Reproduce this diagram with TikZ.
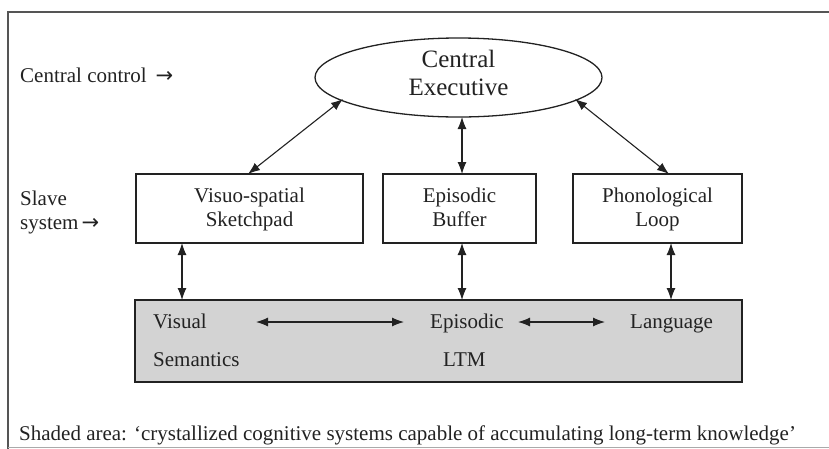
\documentclass[tikz,border=0pt]{standalone}
\usepackage{fontspec}
\setmainfont{Liberation Serif}
\newfontfamily\symfont{DejaVu Sans}
\usetikzlibrary{arrows.meta,shapes.geometric}
\definecolor{shade}{HTML}{D3D3D3}
\definecolor{framegray}{HTML}{555555}
\definecolor{ink}{HTML}{222222}
\tikzset{
  txt/.style={font=\fontsize{21}{24}\selectfont, inner sep=0pt, anchor=base, text=ink},
  ltxt/.style={txt, anchor=base west},
  bigtxt/.style={font=\fontsize{25}{28}\selectfont, inner sep=0pt, anchor=base, text=ink},
  unit/.style={draw=ink, line width=1.6pt, inner sep=0pt},
  link/.style={line width=1.1pt, draw=ink, {Latex[length=12pt,width=9pt]}-{Latex[length=12pt,width=9pt]}},
}
\newcommand{\rarr}{{\symfont\fontsize{21}{21}\selectfont →}}
\begin{document}
\begin{tikzpicture}[x=1pt,y=-1pt]
\useasboundingbox (0,0) rectangle (829,448);
% outer frame
\draw[framegray, line width=1.3pt] (8,449) -- (8,12) -- (830,12);
\draw[framegray!50, line width=0.8pt] (8,447) -- (830,447);

% central executive
\draw[ink, line width=1.3pt] (458.5,77.5) ellipse [x radius=143.5, y radius=39.5];
\coordinate (ce) at (458.5,77.5);
\node[bigtxt] (ce1) at (458.5,67) {Central};
\node[bigtxt] (ce2) at (458.5,95) {Executive};

% slave systems
\draw[unit] (136,174) rectangle (363,243);
\draw[unit] (383,174) rectangle (536,243);
\draw[unit] (573,174) rectangle (742,243);
\node[txt] (vs1) at (249.5,202) {Visuo-spatial};
\node[txt] (vs2) at (249.5,226) {Sketchpad};
\node[txt] (eb1) at (459.5,202) {Episodic};
\node[txt] (eb2) at (459.5,226) {Buffer};
\node[txt] (pl1) at (657.5,202) {Phonological};
\node[txt] (pl2) at (657.5,226) {Loop};

% long-term memory (shaded)
\draw[unit, fill=shade] (135,300) rectangle (742,382);
\node[ltxt] (vis) at (153,328) {Visual};
\node[ltxt] (sem) at (153,366) {Semantics};
\node[ltxt] (epi) at (430,328) {Episodic};
\node[ltxt] (mem) at (443,366) {LTM};
\node[ltxt] (lan) at (630,328) {Language};

% side labels
\node[ltxt] (cc) at (20,82) {Central control\hspace{9pt}\rarr};
\node[ltxt] (ss1) at (20,205) {Slave};
\node[ltxt] (ss2) at (20,229) {system\hspace{3pt}\rarr};
\node[ltxt] (note) at (19,440) {Shaded area: `crystallized cognitive systems capable of accumulating long-term knowledge'};

% connectors
\coordinate (vsT) at (248,174);  \coordinate (ceL) at (343,99);
\coordinate (ebT) at (462,174);  \coordinate (ceB) at (462,117);
\coordinate (plT) at (669,174);  \coordinate (ceR) at (575,99);
\coordinate (vsB) at (182,243);  \coordinate (ltA) at (182,300);
\coordinate (ebB) at (462,243);  \coordinate (ltB) at (462,300);
\coordinate (plB) at (671,243);  \coordinate (ltC) at (671,300);
\coordinate (h1) at (256,322);   \coordinate (h2) at (404,322);
\coordinate (h3) at (518,322);   \coordinate (h4) at (605,322);
\draw[link] (vsT) -- (ceL);
\draw[link] (ebT) -- (ceB);
\draw[link] (plT) -- (ceR);
\draw[link] (vsB) -- (ltA);
\draw[link] (ebB) -- (ltB);
\draw[link] (plB) -- (ltC);
\draw[link] (h1) -- (h2);
\draw[link] (h3) -- (h4);
\end{tikzpicture}
\end{document}
